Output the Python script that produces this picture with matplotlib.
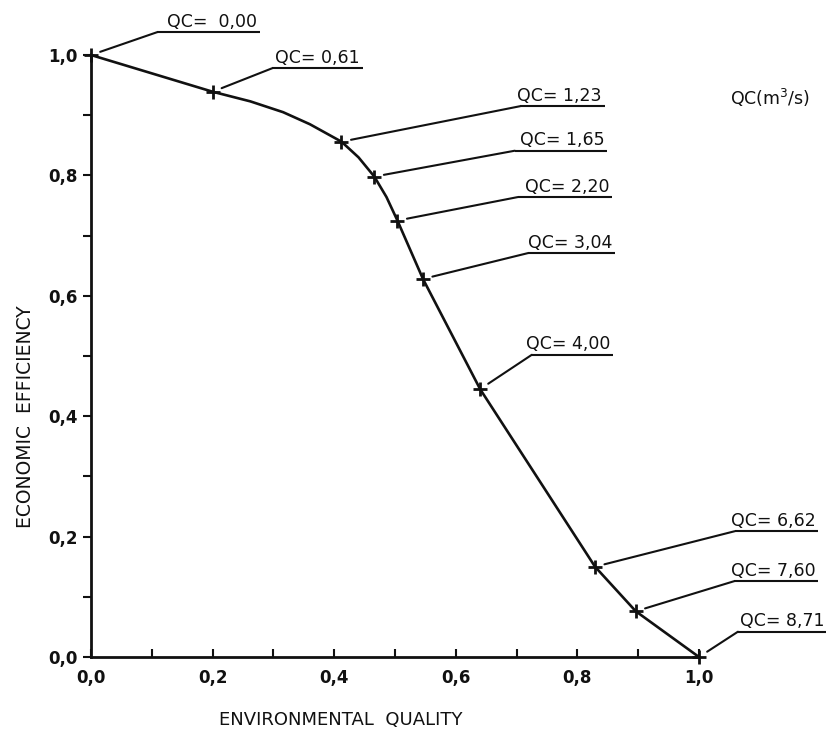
import matplotlib
matplotlib.use("Agg")
import matplotlib.pyplot as plt

# ---- data ----
qc_labels = ["QC=  0,00", "QC= 0,61", "QC= 1,23", "QC= 1,65", "QC= 2,20",
             "QC= 3,04", "QC= 4,00", "QC= 6,62", "QC= 7,60", "QC= 8,71"]
env_quality = [0.0, 0.200, 0.412, 0.466, 0.504, 0.546, 0.640, 0.829, 0.896, 1.0]
econ_eff = [1.0, 0.939, 0.856, 0.798, 0.725, 0.628, 0.445, 0.150, 0.076, 0.0]

# traced curve (same points plus a few shape points)
curve_x = [0.0, 0.200, 0.262, 0.316, 0.360, 0.412, 0.440, 0.466, 0.486, 0.504,
           0.546, 0.640, 0.829, 0.896, 1.0]
curve_y = [1.0, 0.939, 0.923, 0.905, 0.885, 0.856, 0.830, 0.798, 0.764, 0.725,
           0.628, 0.445, 0.150, 0.076, 0.0]

x_ticks = [0.0, 0.1, 0.2, 0.3, 0.4, 0.5, 0.6, 0.7, 0.8, 0.9, 1.0]
x_tick_labels = ["0,0", "", "0,2", "", "0,4", "", "0,6", "", "0,8", "", "1,0"]
y_ticks = [0.0, 0.1, 0.2, 0.3, 0.4, 0.5, 0.6, 0.7, 0.8, 0.9, 1.0]
y_tick_labels = ["0,0", "", "0,2", "", "0,4", "", "0,6", "", "0,8", "", "1,0"]

x_label = "ENVIRONMENTAL  QUALITY"
y_label = "ECONOMIC  EFFICIENCY"
unit_label = r"QC(m$^3$/s)"

# ---- label layout (axes fraction): elbow of leader line, end of underline ----
elbow_x = [0.109, 0.298, 0.706, 0.697, 0.702, 0.719, 0.725, 1.059, 1.058, 1.064]
elbow_y = [1.038, 0.978, 0.915, 0.841, 0.764, 0.671, 0.502, 0.209, 0.126, 0.042]
under_end = [0.278, 0.447, 0.845, 0.849, 0.857, 0.862, 0.859, 1.196, 1.196, 1.211]

plt.rcParams['font.family'] = ['DejaVu Sans']

fig = plt.figure(figsize=(8.26, 7.31), dpi=100)
ax = fig.add_axes([91 / 826, 1 - 657 / 731, 608 / 826, 602 / 731])
ax.set_xlim(0, 1.0)
ax.set_ylim(0, 1.0)

for s in ['top', 'right']:
    ax.spines[s].set_visible(False)
for s in ['left', 'bottom']:
    ax.spines[s].set_linewidth(2.0)
    ax.spines[s].set_color('#111111')

ax.set_xticks(x_ticks)
ax.set_xticklabels(x_tick_labels, fontsize=12, fontweight='bold')
ax.set_yticks(y_ticks)
ax.set_yticklabels(y_tick_labels, fontsize=12, fontweight='bold')
ax.tick_params(axis='x', direction='in', length=5.5, width=1.5, pad=9, colors='#111111')
ax.tick_params(axis='y', direction='out', length=5.5, width=1.5, pad=4, colors='#111111')

# curve
ax.plot(curve_x, curve_y, color='#111111', lw=1.9, clip_on=False, zorder=3,
        solid_joinstyle='round')
ax.plot(env_quality, econ_eff, linestyle='none', marker='+', markersize=10,
        markeredgewidth=2.0, color='#111111', clip_on=False, zorder=4)

# labels with leader lines and underline
for lab, px, py, ex, ey, ue in zip(qc_labels, env_quality, econ_eff,
                                   elbow_x, elbow_y, under_end):
    ax.annotate('', xy=(px, py), xycoords='data',
                xytext=(ex, ey), textcoords='axes fraction',
                arrowprops=dict(arrowstyle='-', lw=1.5, color='#111111',
                                shrinkA=0, shrinkB=7),
                annotation_clip=False)
    ax.plot([ex, ue], [ey, ey], transform=ax.transAxes, color='#111111',
            lw=1.5, clip_on=False, solid_capstyle='butt')
    ax.annotate(lab, xy=(ue, ey), xycoords='axes fraction',
                xytext=(-2, 4), textcoords='offset points',
                ha='right', va='baseline', fontsize=12.5, color='#111111',
                annotation_clip=False)

ax.text(1.051, 0.917, unit_label, transform=ax.transAxes, ha='left',
        va='baseline', fontsize=12.5, color='#111111')

fig.text(341 / 826, 6 / 731, x_label, ha='center', va='baseline',
         fontsize=13, color='#111111')
fig.text(26 / 826, 1 - 417 / 731, y_label, ha='center', va='center',
         rotation=90, fontsize=13.5, color='#111111')

fig.savefig('out.png', dpi=100, facecolor='white')
